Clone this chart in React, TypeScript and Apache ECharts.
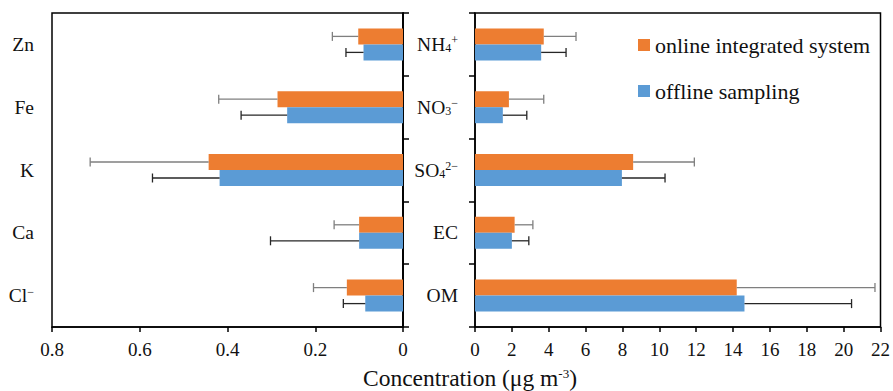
import React, { useEffect, useRef } from "react";
import * as echarts from "echarts";

// Left panel (trace elements), categories bottom -> top
const leftCats = ["Cl-", "Ca", "K", "Fe", "Zn"];
const leftOnline = [0.128, 0.1, 0.443, 0.286, 0.102];
const leftOnlineErr = [0.076, 0.057, 0.27, 0.134, 0.059];
const leftOffline = [0.086, 0.1, 0.418, 0.264, 0.09];
const leftOfflineErr = [0.05, 0.202, 0.153, 0.105, 0.04];

// Right panel (major components), categories bottom -> top
const rightCats = ["OM", "EC", "SO4", "NO3", "NH4"];
const rightOnline = [14.2, 2.15, 8.58, 1.84, 3.73];
const rightOnlineErr = [7.5, 0.99, 3.32, 1.89, 1.75];
const rightOffline = [14.62, 2.0, 7.97, 1.51, 3.59];
const rightOfflineErr = [5.81, 0.92, 2.34, 1.3, 1.35];

const leftTicks = { min: 0, max: 0.8, interval: 0.2 };
const rightTicks = { min: 0, max: 22, interval: 2 };

const seriesNames = ["online integrated system", "offline sampling"];

const labelRich: Record<string, string> = {
  "Cl-": "{n|Cl}{sup|\u2212}",
  Ca: "{n|Ca}",
  K: "{n|K}",
  Fe: "{n|Fe}",
  Zn: "{n|Zn}",
  OM: "{n|OM}",
  EC: "{n|EC}",
  SO4: "{n|SO}{sub|4}{sup|2\u2212}",
  NO3: "{n|NO}{sub|3}{sup|\u2212}",
  NH4: "{n|NH}{sub|4}{sup|+}",
};

const FONT = '"Liberation Serif", "Times New Roman", serif';
const TXT = "#111";
const ORANGE = "#ED7D31";
const BLUE = "#5B9BD5";

export default function App() {
  const ref = useRef<HTMLDivElement>(null);

  useEffect(() => {
    if (!ref.current) return;
    const chart = echarts.init(ref.current, undefined, { renderer: "svg" });

    const rich = {
      n: { fontSize: 19.5, fontFamily: FONT, color: TXT, lineHeight: 20 },
      sub: { fontSize: 12, fontFamily: FONT, color: TXT, lineHeight: 12, verticalAlign: "bottom" },
      sup: { fontSize: 12, fontFamily: FONT, color: TXT, lineHeight: 12, verticalAlign: "top" },
    };

    const axisLine = { show: true, lineStyle: { color: "#000", width: 1.5 } };
    const xLabel = { fontSize: 19, fontFamily: FONT, color: TXT, margin: 13 };

    const errSeries = (
      xi: number,
      vals: number[],
      errs: number[],
      offset: number,
      color: string
    ) => ({
      type: "custom",
      xAxisIndex: xi,
      yAxisIndex: xi === 0 ? 0 : 2,
      z: 5,
      silent: true,
      data: vals.map((v, i) => [v, i, errs[i]]),
      encode: { x: 0, y: 1 },
      renderItem: (params: any, api: any) => {
        const v = api.value(0);
        const c = api.value(1);
        const e = api.value(2);
        const p0 = api.coord([v, c]);
        const p1 = api.coord([v + e, c]);
        const y = p0[1] + offset;
        return {
          type: "group",
          children: [
            { type: "line", shape: { x1: p0[0], y1: y, x2: p1[0], y2: y }, style: { stroke: color, lineWidth: 1.3 } },
            { type: "line", shape: { x1: p1[0], y1: y - 4.5, x2: p1[0], y2: y + 4.5 }, style: { stroke: color, lineWidth: 1.3 } },
          ],
        };
      },
    });

    const bar = (name: string, xi: number, data: number[], color: string) => ({
      type: "bar",
      name,
      xAxisIndex: xi,
      yAxisIndex: xi === 0 ? 0 : 2,
      data,
      barWidth: 16,
      barGap: "0%",
      itemStyle: { color },
    });

    const option: any = {
      animation: false,
      textStyle: { fontFamily: FONT },
      grid: [
        { left: 52, right: 490, top: 13, bottom: 64, show: true, borderColor: "#000", borderWidth: 1.5, backgroundColor: "transparent" },
        { left: 475, right: 11, top: 13, bottom: 64, show: true, borderColor: "#000", borderWidth: 1.5, backgroundColor: "transparent" },
      ],
      xAxis: [
        {
          type: "value", gridIndex: 0, inverse: true, ...leftTicks,
          axisLine, axisTick: { show: true, length: 5, lineStyle: { color: "#000", width: 1.5 } },
          axisLabel: { ...xLabel, formatter: (v: number) => String(Math.round(v * 10) / 10) },
          splitLine: { show: false },
        },
        {
          type: "value", gridIndex: 1, ...rightTicks,
          axisLine, axisTick: { show: true, length: 5, lineStyle: { color: "#000", width: 1.5 } },
          axisLabel: xLabel,
          splitLine: { show: false },
        },
      ],
      yAxis: [
        {
          type: "category", gridIndex: 0, position: "left", data: leftCats,
          axisLine, axisTick: { show: false },
          axisLabel: { margin: 18, formatter: (v: string) => labelRich[v], rich },
        },
        {
          type: "category", gridIndex: 0, position: "right", data: leftCats,
          axisLine, axisTick: { show: true, length: 6, lineStyle: { color: "#000", width: 1.5 } },
          axisLabel: { show: false },
        },
        {
          type: "category", gridIndex: 1, position: "left", data: rightCats,
          axisLine, axisTick: { show: true, length: 6, lineStyle: { color: "#000", width: 1.5 } },
          axisLabel: { margin: 17, formatter: (v: string) => labelRich[v], rich },
        },
      ],
      legend: {
        data: seriesNames,
        orient: "vertical",
        left: 633,
        top: 29,
        icon: "rect",
        itemWidth: 12,
        itemHeight: 12,
        itemGap: 24,
        selectedMode: false,
        textStyle: { fontSize: 22, fontFamily: FONT, color: TXT },
      },
      graphic: [
        {
          type: "text",
          x: 470,
          y: 378,
          style: {
            text: "{n|Concentration (\u03bcg m}{sup|-3}{n|)}",
            align: "center",
            verticalAlign: "middle",
            rich: {
              n: { fontSize: 23.5, fontFamily: FONT, fill: TXT, lineHeight: 22 },
              sup: { fontSize: 13, fontFamily: FONT, fill: TXT, lineHeight: 13, verticalAlign: "top" },
            },
          },
        },
      ],
      series: [
        bar(seriesNames[0], 0, leftOnline, ORANGE),
        bar(seriesNames[1], 0, leftOffline, BLUE),
        bar(seriesNames[0], 1, rightOnline, ORANGE),
        bar(seriesNames[1], 1, rightOffline, BLUE),
        errSeries(0, leftOffline, leftOfflineErr, 8, "#262626"),
        errSeries(0, leftOnline, leftOnlineErr, -8, "#7f7f7f"),
        errSeries(1, rightOffline, rightOfflineErr, 8, "#262626"),
        errSeries(1, rightOnline, rightOnlineErr, -8, "#7f7f7f"),
      ],
    };

    chart.setOption(option);
    return () => chart.dispose();
  }, []);

  return (
    <div
      ref={ref}
      style={{ position: "absolute", left: 0, top: 0, width: 893, height: 391, background: "#fff" }}
    />
  );
}
